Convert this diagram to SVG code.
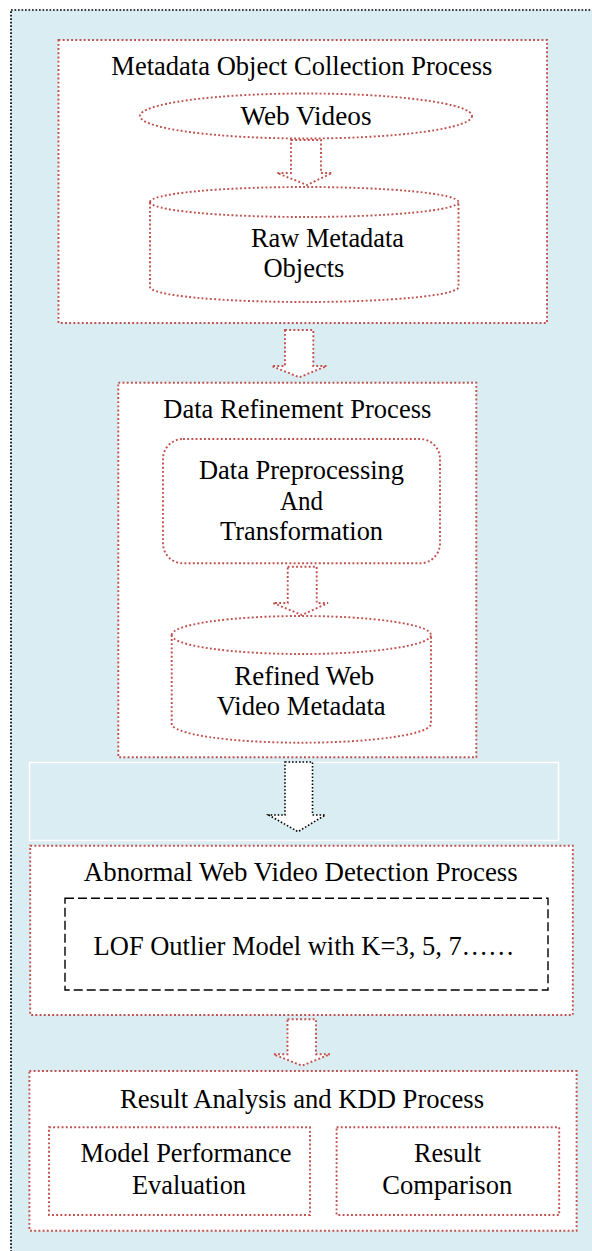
<svg xmlns="http://www.w3.org/2000/svg" width="592" height="1251" viewBox="0 0 592 1251">
<style>
.bg{fill:#DAEDF3;stroke:#000;stroke-width:1.7;stroke-dasharray:1.7 1.8}
.box{fill:#fff;stroke:#C0504D;stroke-width:1.9;stroke-dasharray:1.9 2.3}
.arr{fill:#fff;stroke:#C0504D;stroke-width:1.9;stroke-dasharray:1.9 2.3}
.barr{fill:#fff;stroke:#000;stroke-width:1.6;stroke-dasharray:1.6 1.9}
.dash{fill:#fff;stroke:#000;stroke-width:1.4;stroke-dasharray:9 4}
.t{font-family:"Liberation Serif","Times New Roman",serif;font-size:26.5px;fill:#000}
</style>
<rect class="bg" x="11" y="10" width="600" height="1260"/>
<rect x="29.5" y="762.5" width="529" height="78" fill="none" stroke="#fff" stroke-width="1.5"/>

<g id="collection">
<rect class="box" x="58.5" y="40" width="488.5" height="283"/>
<text class="t" x="111.3" y="74.5" textLength="381" lengthAdjust="spacingAndGlyphs">Metadata Object Collection Process</text>
</g>
<g id="web-videos">
<ellipse class="box" cx="306" cy="116" rx="166" ry="22.5"/>
<text class="t" x="240.5" y="125" textLength="131" lengthAdjust="spacingAndGlyphs">Web Videos</text>
</g>
<g id="raw-metadata">
<path class="box" d="M150,202 A154.25,15 0 0 1 458.5,202 V287 A154.25,15 0 0 1 150,287 Z"/>
<path class="box" fill="none" d="M150,202 A154.25,15 0 0 0 458.5,202"/>
<text class="t" x="251" y="247" textLength="153" lengthAdjust="spacingAndGlyphs">Raw Metadata</text>
<text class="t" x="263.4" y="277" textLength="81" lengthAdjust="spacingAndGlyphs">Objects</text>
</g>

<g id="refinement">
<rect class="box" x="118.3" y="382.7" width="358" height="374.6"/>
<text class="t" x="163.3" y="418" textLength="268" lengthAdjust="spacingAndGlyphs">Data Refinement Process</text>
</g>
<g id="preprocessing">
<rect class="box" x="163" y="439" width="277" height="124.3" rx="20" ry="20"/>
<text class="t" x="199" y="479" textLength="205" lengthAdjust="spacingAndGlyphs">Data Preprocessing</text>
<text class="t" x="280" y="510" textLength="43" lengthAdjust="spacingAndGlyphs">And</text>
<text class="t" x="220" y="540" textLength="163" lengthAdjust="spacingAndGlyphs">Transformation</text>
</g>
<g id="refined-metadata">
<path class="box" d="M171.7,635 A129.65,19 0 0 1 431,635 V723.7 A129.65,19 0 0 1 171.7,723.7 Z"/>
<path class="box" fill="none" d="M171.7,635 A129.65,19 0 0 0 431,635"/>
<text class="t" x="234.3" y="685" textLength="140" lengthAdjust="spacingAndGlyphs">Refined Web</text>
<text class="t" x="216.7" y="715" textLength="169" lengthAdjust="spacingAndGlyphs">Video Metadata</text>
</g>

<g id="detection">
<rect class="box" x="30.2" y="845.7" width="542.6" height="169.3"/>
<text class="t" x="83.8" y="881" textLength="434" lengthAdjust="spacingAndGlyphs">Abnormal Web Video Detection Process</text>
</g>
<g id="lof">
<rect class="dash" x="65" y="898.3" width="483" height="91.7"/>
<text class="t" x="93.6" y="955" textLength="421" lengthAdjust="spacingAndGlyphs">LOF Outlier Model with K=3, 5, 7……</text>
</g>

<g id="result">
<rect class="box" x="29.4" y="1071" width="547.2" height="159.7"/>
<text class="t" x="120" y="1107.5" textLength="364" lengthAdjust="spacingAndGlyphs">Result Analysis and KDD Process</text>
</g>
<g id="evaluation">
<rect class="box" x="49" y="1127.3" width="261" height="87.7"/>
<text class="t" x="80.4" y="1162" textLength="211" lengthAdjust="spacingAndGlyphs">Model Performance</text>
<text class="t" x="132" y="1193.5" textLength="114" lengthAdjust="spacingAndGlyphs">Evaluation</text>
</g>
<g id="comparison">
<rect class="box" x="336.6" y="1127.3" width="222.6" height="87.7"/>
<text class="t" x="414" y="1162" textLength="67" lengthAdjust="spacingAndGlyphs">Result</text>
<text class="t" x="382.3" y="1193.5" textLength="130" lengthAdjust="spacingAndGlyphs">Comparison</text>
</g>

<g id="connectors">
<path class="arr" d="M291,140 H321 V173 H332 L307,185 L277,173 H291 Z"/>
<path class="arr" d="M285,330 H313.3 V366 H326.7 L299.3,377.3 L271.7,366 H285 Z"/>
<path class="arr" d="M287.7,566.7 H316.7 V603 H328 L301.7,615 L273,603 H287.7 Z"/>
<path class="barr" d="M285,762 H312.5 V815 H325.3 L298,831.7 L268.7,815 H285 Z"/>
<path class="arr" d="M287.5,1019.3 H316 V1054.3 H330 L302,1065.7 L273.6,1054.3 H287.5 Z"/>
</g>
</svg>
